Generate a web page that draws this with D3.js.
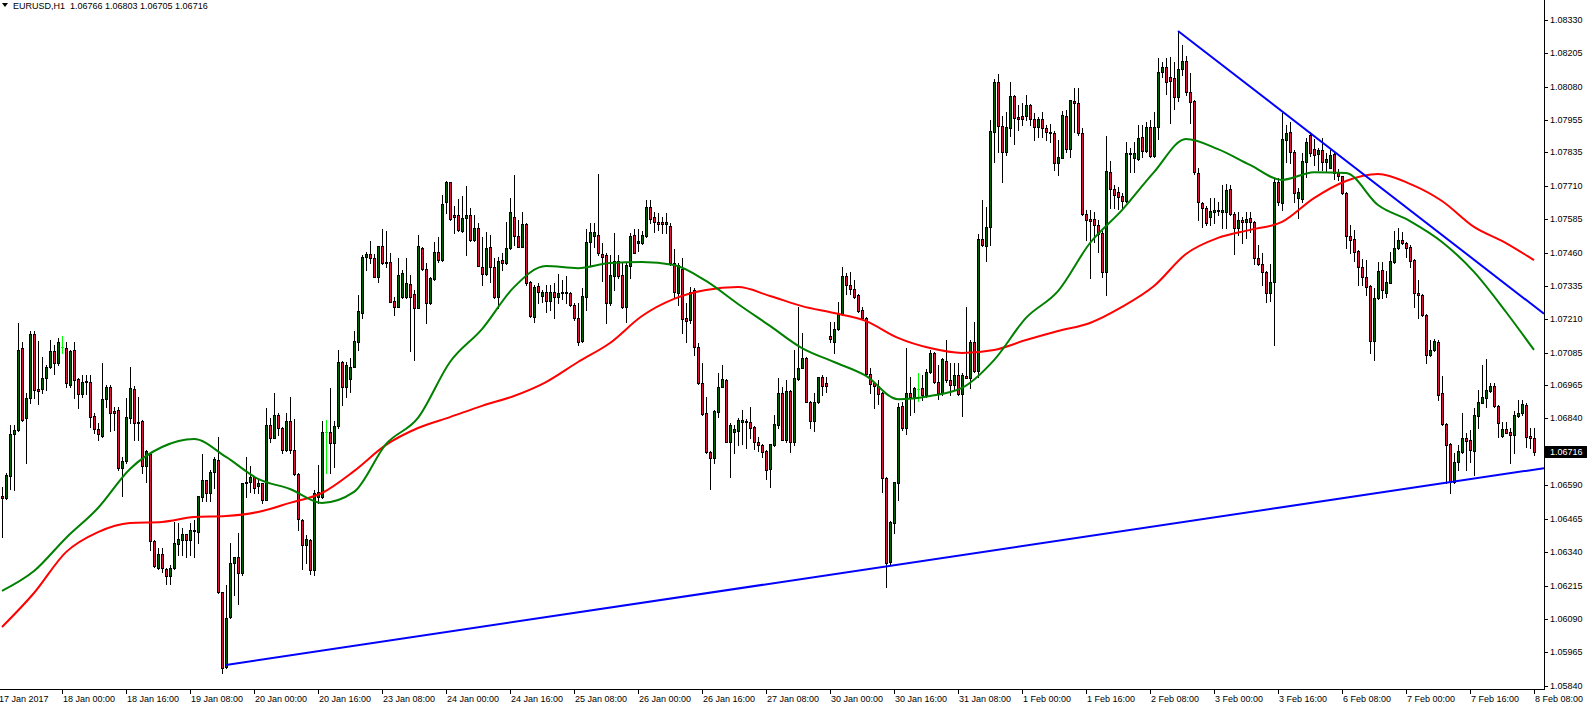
<!DOCTYPE html>
<html><head><meta charset="utf-8">
<script src="https://cdn.jsdelivr.net/npm/d3@7"></script>
<style>html,body{margin:0;padding:0;background:#fff;overflow:hidden}</style>
</head><body><svg id="c" width="1588" height="708"></svg>
<script>
const symbolName = "EURUSD,H1";
const opens=[
1.06550,1.06542,1.06625,1.06782,1.06797,1.07103,1.06842,1.06916,1.07156,1.06950,1.06950,1.06991,1.07032,1.07092,1.07047,1.07107,
1.07103,1.06965,1.07096,1.06987,1.06931,1.06980,1.06976,1.06849,1.06800,1.06774,1.06912,1.06957,1.06868,1.06871,1.06654,1.06681,
1.06842,1.06950,1.06827,1.06830,1.06662,1.06707,1.06382,1.06281,1.06333,1.06277,1.06251,1.06281,1.06370,1.06385,1.06408,1.06385,
1.06423,1.06415,1.06546,1.06610,1.06561,1.06640,1.06684,1.06191,1.05910,1.06097,1.06299,1.06322,1.06262,1.06602,1.06602,1.06621,
1.06587,1.06598,1.06535,1.06815,1.06767,1.06853,1.06804,1.06722,1.06830,1.06722,1.06632,1.06460,1.06367,1.06385,1.06273,1.06546,
1.06546,1.06789,1.06789,1.06748,1.06812,1.07051,1.06957,1.06987,1.07032,1.07126,1.07234,1.07444,1.07455,1.07440,1.07369,1.07485,
1.07425,1.07425,1.07279,1.07257,1.07294,1.07294,1.07343,1.07305,1.07253,1.07477,1.07399,1.07272,1.07361,1.07462,1.07432,1.07649,
1.07724,1.07601,1.07601,1.07541,1.07589,1.07601,1.07507,1.07552,1.07406,1.07380,1.07481,1.07406,1.07294,1.07432,1.07421,1.07477,
1.07593,1.07522,1.07481,1.07567,1.07350,1.07219,1.07335,1.07298,1.07313,1.07279,1.07313,1.07294,1.07313,1.07309,1.07309,1.07264,
1.07216,1.07130,1.07294,1.07500,1.07522,1.07526,1.07455,1.07451,1.07272,1.07373,1.07429,1.07376,1.07257,1.07410,1.07526,1.07496,
1.07496,1.07522,1.07631,1.07593,1.07575,1.07575,1.07567,1.07560,1.07421,1.07309,1.07399,1.07216,1.07208,1.07320,1.07107,1.06972,
1.06860,1.06714,1.06692,1.06864,1.06957,1.06984,1.06752,1.06789,1.06793,1.06827,1.06830,1.06827,1.06808,1.06752,1.06741,1.06718,
1.06651,1.06741,1.06815,1.06935,1.06759,1.06943,1.06752,1.06987,1.07029,1.07066,1.06901,1.06830,1.06901,1.06995,1.06972,1.07148,
1.07126,1.07174,1.07230,1.07373,1.07339,1.07324,1.07302,1.07245,1.07216,1.07006,1.06972,1.06961,1.06935,1.06617,1.06303,1.06449,
1.06598,1.06887,1.06804,1.06935,1.06920,1.06950,1.06954,1.06928,1.07014,1.07085,1.06976,1.06935,1.07055,1.06984,1.06965,1.07002,
1.06931,1.06999,1.06991,1.07126,1.07017,1.07511,1.07485,1.07556,1.07911,1.08098,1.07934,1.07836,1.07926,1.08045,1.07967,1.07971,
1.07971,1.08012,1.07960,1.07930,1.07960,1.07926,1.07911,1.07907,1.07795,1.07814,1.07971,1.07847,1.08027,1.08019,1.07907,1.07605,
1.07586,1.07586,1.07563,1.07533,1.07388,1.07761,1.07698,1.07687,1.07672,1.07653,1.07833,1.07814,1.07810,1.07893,1.07840,1.07930,
1.07821,1.07930,1.08135,1.08154,1.08117,1.08113,1.08042,1.08147,1.08177,1.08061,1.08027,1.07758,1.07646,1.07627,1.07593,1.07612,
1.07620,1.07612,1.07612,1.07698,1.07605,1.07552,1.07582,1.07575,1.07589,1.07575,1.07440,1.07417,1.07388,1.07309,1.07350,1.07724,
1.07646,1.07881,1.07911,1.07836,1.07664,1.07661,1.07799,1.07900,1.07847,1.07829,1.07844,1.07799,1.07776,1.07829,1.07758,1.07746,
1.07683,1.07522,1.07511,1.07466,1.07406,1.07369,1.07335,1.07130,1.07290,1.07395,1.07309,1.07346,1.07425,1.07477,1.07507,1.07496,
1.07481,1.07432,1.07309,1.07302,1.07227,1.07077,1.07096,1.07126,1.06935,1.06819,1.06744,1.06602,1.06677,1.06714,1.06767,1.06759,
1.06718,1.06849,1.06898,1.06916,1.06943,1.06961,1.06887,1.06774,1.06800,1.06789,1.06778,1.06849,1.06860,1.06890,1.06774,1.06766];
const highs=[
1.06583,1.06636,1.06815,1.06815,1.07197,1.07126,1.06935,1.07167,1.07167,1.07130,1.07070,1.07040,1.07133,1.07115,1.07141,1.07148,
1.07126,1.07096,1.07126,1.06991,1.07002,1.07002,1.07002,1.06860,1.06823,1.07047,1.06965,1.06965,1.06883,1.06883,1.06696,1.06916,
1.07032,1.06961,1.06920,1.06834,1.06722,1.06711,1.06385,1.06355,1.06355,1.06281,1.06292,1.06453,1.06449,1.06430,1.06408,1.06449,
1.06460,1.06550,1.06707,1.06610,1.06647,1.06696,1.06770,1.06191,1.06217,1.06374,1.06322,1.06411,1.06598,1.06696,1.06662,1.06625,
1.06617,1.06598,1.06879,1.06842,1.06935,1.06860,1.06808,1.06860,1.06920,1.06838,1.06636,1.06464,1.06404,1.06389,1.06572,1.06666,
1.06830,1.06834,1.06954,1.06830,1.07096,1.07055,1.07051,1.07066,1.07167,1.07302,1.07451,1.07462,1.07504,1.07455,1.07485,1.07548,
1.07541,1.07459,1.07294,1.07440,1.07395,1.07440,1.07376,1.07320,1.07526,1.07481,1.07421,1.07369,1.07500,1.07518,1.07676,1.07728,
1.07724,1.07634,1.07661,1.07672,1.07709,1.07627,1.07601,1.07571,1.07518,1.07537,1.07526,1.07440,1.07444,1.07459,1.07575,1.07664,
1.07750,1.07582,1.07612,1.07571,1.07354,1.07339,1.07346,1.07320,1.07339,1.07339,1.07346,1.07380,1.07358,1.07373,1.07313,1.07272,
1.07272,1.07328,1.07548,1.07571,1.07571,1.07754,1.07496,1.07459,1.07451,1.07533,1.07451,1.07425,1.07421,1.07533,1.07548,1.07548,
1.07541,1.07657,1.07657,1.07612,1.07608,1.07593,1.07608,1.07571,1.07474,1.07421,1.07440,1.07272,1.07331,1.07328,1.07122,1.07047,
1.06920,1.06718,1.06871,1.07010,1.07040,1.06987,1.06823,1.06815,1.06842,1.06871,1.06838,1.06883,1.06812,1.06770,1.06744,1.06722,
1.06744,1.06853,1.06991,1.06957,1.06984,1.06946,1.07096,1.07257,1.07159,1.07070,1.06905,1.06935,1.06995,1.07002,1.06995,1.07201,
1.07201,1.07275,1.07406,1.07384,1.07388,1.07358,1.07305,1.07257,1.07219,1.07029,1.06976,1.06984,1.06939,1.06621,1.06456,1.06602,
1.06898,1.06901,1.07103,1.06995,1.06957,1.07010,1.07002,1.07025,1.07096,1.07088,1.07040,1.07066,1.07133,1.07047,1.07047,1.07047,
1.07010,1.07257,1.07133,1.07201,1.07530,1.07657,1.07631,1.07956,1.08109,1.08128,1.07971,1.07986,1.08098,1.08049,1.08012,1.08019,
1.08049,1.08016,1.07982,1.07967,1.07986,1.07938,1.07941,1.07915,1.07881,1.07990,1.07993,1.08031,1.08075,1.08075,1.07926,1.07619,
1.07619,1.07612,1.07582,1.07541,1.07896,1.07803,1.07713,1.07706,1.07683,1.07874,1.07851,1.07874,1.07938,1.07938,1.07949,1.07956,
1.07986,1.08188,1.08173,1.08188,1.08192,1.08173,1.08285,1.08237,1.08195,1.08132,1.08031,1.07777,1.07649,1.07634,1.07664,1.07664,
1.07649,1.07713,1.07717,1.07713,1.07612,1.07612,1.07593,1.07612,1.07612,1.07578,1.07489,1.07459,1.07391,1.07417,1.07736,1.07739,
1.07982,1.07938,1.07949,1.07844,1.07702,1.07833,1.07889,1.07911,1.07885,1.07851,1.07889,1.07833,1.07844,1.07836,1.07773,1.07746,
1.07687,1.07563,1.07545,1.07470,1.07436,1.07432,1.07339,1.07328,1.07425,1.07425,1.07391,1.07462,1.07541,1.07552,1.07537,1.07500,
1.07489,1.07436,1.07358,1.07305,1.07230,1.07133,1.07137,1.07133,1.06999,1.06823,1.06748,1.06711,1.06741,1.06860,1.06785,1.06797,
1.06879,1.06946,1.07040,1.07062,1.06972,1.06972,1.06890,1.06827,1.06827,1.06804,1.06868,1.06909,1.06909,1.06898,1.06804,1.06803];
const lows=[
1.06396,1.06539,1.06576,1.06572,1.06793,1.06830,1.06673,1.06898,1.06916,1.06894,1.06935,1.06946,1.07029,1.07006,1.07040,1.07085,
1.06957,1.06957,1.06916,1.06879,1.06920,1.06931,1.06808,1.06785,1.06759,1.06770,1.06883,1.06793,1.06797,1.06647,1.06550,1.06673,
1.06823,1.06759,1.06759,1.06636,1.06602,1.06348,1.06284,1.06277,1.06266,1.06221,1.06221,1.06277,1.06329,1.06329,1.06322,1.06329,
1.06322,1.06374,1.06531,1.06531,1.06531,1.06580,1.06187,1.05888,1.05907,1.06094,1.06180,1.06146,1.06254,1.06546,1.06565,1.06561,
1.06561,1.06524,1.06535,1.06752,1.06767,1.06778,1.06711,1.06718,1.06711,1.06628,1.06423,1.06277,1.06299,1.06258,1.06254,1.06524,
1.06542,1.06636,1.06636,1.06658,1.06804,1.06890,1.06920,1.06939,1.07032,1.07096,1.07216,1.07395,1.07421,1.07369,1.07350,1.07417,
1.07406,1.07275,1.07227,1.07257,1.07290,1.07290,1.07092,1.07058,1.07253,1.07395,1.07197,1.07268,1.07358,1.07425,1.07429,1.07608,
1.07582,1.07533,1.07541,1.07537,1.07451,1.07504,1.07504,1.07410,1.07339,1.07376,1.07350,1.07290,1.07253,1.07395,1.07417,1.07474,
1.07489,1.07481,1.07481,1.07339,1.07219,1.07201,1.07272,1.07275,1.07238,1.07245,1.07216,1.07272,1.07287,1.07272,1.07260,1.07208,
1.07115,1.07126,1.07245,1.07414,1.07481,1.07451,1.07354,1.07197,1.07264,1.07320,1.07365,1.07253,1.07201,1.07365,1.07459,1.07466,
1.07492,1.07519,1.07571,1.07537,1.07545,1.07533,1.07533,1.07414,1.07294,1.07264,1.07159,1.07126,1.07197,1.07077,1.06969,1.06853,
1.06711,1.06576,1.06673,1.06845,1.06957,1.06752,1.06621,1.06711,1.06741,1.06744,1.06729,1.06767,1.06726,1.06718,1.06696,1.06614,
1.06584,1.06737,1.06804,1.06759,1.06752,1.06714,1.06741,1.06984,1.07029,1.06901,1.06804,1.06793,1.06898,1.06928,1.06939,1.07126,
1.07085,1.07171,1.07227,1.07305,1.07305,1.07290,1.07238,1.07212,1.07002,1.06935,1.06879,1.06894,1.06565,1.06209,1.06292,1.06411,
1.06535,1.06797,1.06782,1.06853,1.06864,1.06905,1.06909,1.06920,1.07010,1.06972,1.06912,1.06928,1.06976,1.06928,1.06946,1.06928,
1.06849,1.06991,1.06954,1.07014,1.06995,1.07485,1.07429,1.07489,1.07799,1.07836,1.07724,1.07825,1.07896,1.07866,1.07919,1.07938,
1.07956,1.07938,1.07881,1.07893,1.07893,1.07881,1.07874,1.07769,1.07750,1.07814,1.07836,1.07818,1.07911,1.07900,1.07601,1.07507,
1.07365,1.07500,1.07462,1.07369,1.07302,1.07627,1.07627,1.07623,1.07623,1.07649,1.07761,1.07761,1.07806,1.07818,1.07836,1.07818,
1.07818,1.07885,1.08117,1.08053,1.07945,1.07997,1.08027,1.08124,1.08049,1.07945,1.07754,1.07582,1.07556,1.07563,1.07563,1.07571,
1.07601,1.07552,1.07552,1.07601,1.07455,1.07526,1.07496,1.07515,1.07537,1.07417,1.07414,1.07339,1.07275,1.07279,1.07115,1.07638,
1.07619,1.07799,1.07795,1.07649,1.07589,1.07649,1.07743,1.07821,1.07788,1.07769,1.07769,1.07761,1.07776,1.07735,1.07732,1.07679,
1.07478,1.07459,1.07429,1.07339,1.07339,1.07302,1.07085,1.07058,1.07287,1.07290,1.07294,1.07346,1.07421,1.07474,1.07492,1.07444,
1.07406,1.07257,1.07216,1.07223,1.07047,1.07074,1.07092,1.06909,1.06815,1.06598,1.06561,1.06598,1.06647,1.06711,1.06647,1.06677,
1.06628,1.06804,1.06898,1.06883,1.06939,1.06883,1.06770,1.06770,1.06785,1.06673,1.06711,1.06845,1.06853,1.06733,1.06729,1.06705];
const closes=[
1.06542,1.06628,1.06782,1.06797,1.07096,1.06834,1.06916,1.07156,1.06946,1.06943,1.06991,1.07032,1.07092,1.07047,1.07126,1.07107,
1.06972,1.07092,1.06984,1.06931,1.06976,1.06976,1.06845,1.06800,1.06782,1.06912,1.06957,1.06860,1.06860,1.06654,1.06681,1.06845,
1.06954,1.06823,1.06823,1.06662,1.06718,1.06382,1.06288,1.06333,1.06281,1.06251,1.06281,1.06374,1.06389,1.06408,1.06385,1.06423,
1.06419,1.06550,1.06610,1.06561,1.06640,1.06688,1.06191,1.05907,1.06094,1.06299,1.06322,1.06262,1.06598,1.06598,1.06621,1.06580,
1.06598,1.06535,1.06815,1.06767,1.06853,1.06804,1.06722,1.06830,1.06722,1.06632,1.06464,1.06367,1.06389,1.06273,1.06561,1.06565,
1.06789,1.06789,1.06748,1.06812,1.07051,1.06957,1.07040,1.07032,1.07130,1.07242,1.07444,1.07455,1.07440,1.07369,1.07485,1.07421,
1.07421,1.07275,1.07257,1.07376,1.07384,1.07346,1.07294,1.07253,1.07485,1.07399,1.07272,1.07365,1.07462,1.07432,1.07642,1.07724,
1.07586,1.07593,1.07545,1.07589,1.07601,1.07507,1.07552,1.07410,1.07380,1.07477,1.07406,1.07294,1.07429,1.07421,1.07477,1.07612,
1.07522,1.07481,1.07567,1.07346,1.07223,1.07331,1.07313,1.07313,1.07279,1.07313,1.07294,1.07309,1.07309,1.07313,1.07264,1.07216,
1.07126,1.07298,1.07500,1.07537,1.07537,1.07459,1.07444,1.07272,1.07376,1.07429,1.07373,1.07257,1.07414,1.07522,1.07459,1.07504,
1.07526,1.07631,1.07586,1.07575,1.07567,1.07567,1.07575,1.07421,1.07313,1.07414,1.07212,1.07204,1.07313,1.07107,1.06972,1.06856,
1.06714,1.06692,1.06868,1.06957,1.06987,1.06752,1.06815,1.06800,1.06834,1.06834,1.06827,1.06804,1.06752,1.06741,1.06714,1.06647,
1.06744,1.06819,1.06935,1.06759,1.06943,1.06752,1.06991,1.07029,1.07066,1.06901,1.06830,1.06901,1.06995,1.06961,1.06961,1.07137,
1.07174,1.07230,1.07373,1.07339,1.07324,1.07294,1.07242,1.07216,1.07006,1.06969,1.06961,1.06931,1.06617,1.06299,1.06453,1.06602,
1.06883,1.06804,1.06935,1.06920,1.06954,1.06950,1.06928,1.07014,1.07085,1.06976,1.06935,1.07062,1.06984,1.06965,1.07002,1.06931,
1.07002,1.06991,1.07126,1.07017,1.07511,1.07489,1.07556,1.07915,1.08098,1.07934,1.07836,1.07930,1.08045,1.07963,1.07960,1.07960,
1.08012,1.07960,1.07930,1.07960,1.07926,1.07911,1.07907,1.07795,1.07817,1.07975,1.07847,1.08031,1.08019,1.07907,1.07605,1.07582,
1.07578,1.07563,1.07530,1.07388,1.07765,1.07698,1.07676,1.07668,1.07653,1.07833,1.07829,1.07833,1.07889,1.07840,1.07930,1.07821,
1.07930,1.08135,1.08154,1.08098,1.08102,1.08042,1.08147,1.08177,1.08061,1.08023,1.07761,1.07649,1.07627,1.07571,1.07616,1.07620,
1.07616,1.07620,1.07694,1.07605,1.07552,1.07582,1.07575,1.07586,1.07575,1.07440,1.07417,1.07388,1.07309,1.07350,1.07724,1.07649,
1.07885,1.07907,1.07836,1.07683,1.07687,1.07803,1.07874,1.07833,1.07825,1.07844,1.07799,1.07810,1.07825,1.07758,1.07746,1.07683,
1.07522,1.07507,1.07462,1.07406,1.07369,1.07331,1.07130,1.07290,1.07391,1.07320,1.07350,1.07429,1.07477,1.07507,1.07496,1.07477,
1.07429,1.07309,1.07302,1.07227,1.07077,1.07096,1.07130,1.06928,1.06819,1.06741,1.06602,1.06677,1.06718,1.06767,1.06756,1.06722,
1.06853,1.06901,1.06920,1.06946,1.06961,1.06887,1.06823,1.06800,1.06785,1.06778,1.06853,1.06860,1.06894,1.06770,1.06767,1.06716];

const maBars=[0,8,16,24,32,40,48,56,64,72,80,88,96,104,112,120,128,136,144,152,160,168,176,184,192,200,208,216,224,232,240,248,256,264,272,280,288,296,304,312,320,328,336,344,352,360,368,376,383];
const maFast=[1.06195,1.06269,1.06393,1.06505,1.06651,1.06733,1.06763,1.06696,1.06614,1.06576,1.06524,1.06565,1.06744,1.06842,1.07051,1.07174,1.07331,1.07410,1.07402,1.07421,1.07425,1.07414,1.07354,1.07268,1.07186,1.07103,1.07051,1.06999,1.06912,1.06924,1.06954,1.07058,1.07216,1.07316,1.07496,1.07619,1.07761,1.07885,1.07847,1.07788,1.07732,1.07761,1.07758,1.07638,1.07578,1.07500,1.07388,1.07238,1.07096];
const maSlow=[1.06060,1.06187,1.06340,1.06415,1.06449,1.06453,1.06471,1.06475,1.06490,1.06524,1.06561,1.06643,1.06741,1.06804,1.06845,1.06887,1.06924,1.06976,1.07051,1.07122,1.07223,1.07287,1.07320,1.07331,1.07298,1.07260,1.07234,1.07204,1.07141,1.07103,1.07085,1.07096,1.07133,1.07167,1.07197,1.07257,1.07335,1.07455,1.07515,1.07545,1.07575,1.07664,1.07728,1.07754,1.07717,1.07653,1.07556,1.07496,1.07432];

const trendLowerBars=[56,360], trendLowerPrices=[1.05918,1.06597];
const trendUpperBars=[294,360], trendUpperPrices=[1.08289,1.07526];

const priceTicks=[1.08330,1.08205,1.08080,1.07955,1.07835,1.07710,1.07585,1.07460,1.07335,1.07210,1.07085,1.06965,1.06840,1.06590,1.06465,1.06340,1.06215,1.06090,1.05965,1.05840];
const timeLabels=["17 Jan 2017","18 Jan 00:00","18 Jan 16:00","19 Jan 08:00","20 Jan 00:00","20 Jan 16:00","23 Jan 08:00","24 Jan 00:00","24 Jan 16:00","25 Jan 08:00","26 Jan 00:00","26 Jan 16:00","27 Jan 08:00","30 Jan 00:00","30 Jan 16:00","31 Jan 08:00","1 Feb 00:00","1 Feb 16:00","2 Feb 08:00","3 Feb 00:00","3 Feb 16:00","6 Feb 08:00","7 Feb 00:00","7 Feb 16:00","8 Feb 08:00"];
const timeLabelBars=[0,15,31,47,63,79,95,111,127,143,159,175,191,207,223,239,255,271,287,303,319,335,351,367,383];

const W=1588,H=708,plotR=1544,plotB=689;
const FONT="'Liberation Sans', Arial, sans-serif";
const svg=d3.select('#c');
svg.append('rect').attr('width',W).attr('height',H).attr('fill','#fff');
const x=d3.scaleLinear().domain([0,opens.length-1]).range([2,1534]);
const y=d3.scaleLinear().domain([1.05840,1.08330]).range([685.8,20]);

svg.append('defs').append('clipPath').attr('id','clip').append('rect').attr('x',0).attr('y',0).attr('width',plotR).attr('height',plotB);
const plot=svg.append('g').attr('clip-path','url(#clip)');

const candles=opens.map((o,i)=>({i,o,h:highs[i],l:lows[i],c:closes[i]}));
const cg=plot.append('g').attr('shape-rendering','crispEdges');
candles.forEach(d=>{
  const cx=Math.round(x(d.i));
  const yh=Math.round(y(d.h)), yl=Math.round(y(d.l));
  const yo=Math.round(y(d.o)), yc=Math.round(y(d.c));
  if(d.o===d.c){
    cg.append('rect').attr('x',cx).attr('y',yh).attr('width',1).attr('height',Math.max(1,yl-yh+1)).attr('fill','#00ff00');
    cg.append('rect').attr('x',cx-1).attr('y',yo).attr('width',3).attr('height',1).attr('fill','#00ff00');
    return;
  }
  cg.append('rect').attr('x',cx).attr('y',yh).attr('width',1).attr('height',Math.max(1,yl-yh+1)).attr('fill','#000');
  const top=Math.min(yo,yc), bot=Math.max(yo,yc);
  const hgt=bot-top+1;
  cg.append('rect').attr('x',cx-1).attr('y',top).attr('width',3).attr('height',hgt).attr('fill','#000');
  if(hgt>2){
    cg.append('rect').attr('x',cx).attr('y',top+1).attr('width',1).attr('height',hgt-2)
      .attr('fill', d.c>d.o ? '#006400' : '#dc143c');
  }
});

const maLine=d3.line().x((d,k)=>x(maBars[k])).y(d=>y(d)).curve(d3.curveMonotoneX);
plot.append('path').attr('d',maLine(maSlow)).attr('fill','none').attr('stroke','#ff0000').attr('stroke-width',2);
plot.append('path').attr('d',maLine(maFast)).attr('fill','none').attr('stroke','#008000').attr('stroke-width',2);

function ray(bars,prices){
  const x1=x(bars[0]), y1=y(prices[0]), x2=x(bars[1]), y2=y(prices[1]);
  const xe=plotR;
  const ye=y1+(y2-y1)*(xe-x1)/(x2-x1);
  plot.append('line').attr('x1',x1).attr('y1',y1).attr('x2',xe).attr('y2',ye)
    .attr('stroke','#0000ff').attr('stroke-width',2);
}
ray(trendLowerBars,trendLowerPrices);
ray(trendUpperBars,trendUpperPrices);

// axes
const ax=svg.append('g').attr('shape-rendering','crispEdges');
ax.append('rect').attr('x',plotR).attr('y',0).attr('width',1).attr('height',plotB+1).attr('fill','#000');
ax.append('rect').attr('x',0).attr('y',plotB).attr('width',plotR+1).attr('height',1).attr('fill','#000');
priceTicks.forEach(p=>{
  const yy=Math.round(y(p));
  ax.append('rect').attr('x',plotR+1).attr('y',yy).attr('width',3).attr('height',1).attr('fill','#000');
  svg.append('text').attr('x',1550).attr('y',yy+3.3).attr('font-family',FONT).attr('font-size',9).attr('fill','#000').text(p.toFixed(5));
});
timeLabels.forEach((t,k)=>{
  const xx=Math.round(x(timeLabelBars[k]));
  if(k>0) ax.append('rect').attr('x',xx).attr('y',plotB+1).attr('width',1).attr('height',4).attr('fill','#000');
  svg.append('text').attr('x',k===0?-1:xx+1).attr('y',701.5).attr('font-family',FONT).attr('font-size',9).attr('fill','#000').text(t);
});
// current price label
const last=candles[candles.length-1];
const yl=Math.round(y(last.c));
svg.append('rect').attr('x',plotR+1).attr('y',yl-6).attr('width',W-plotR-2).attr('height',12).attr('fill','#000');
svg.append('text').attr('x',1550).attr('y',yl+3.3).attr('font-family',FONT).attr('font-size',9).attr('fill','#fff').text(last.c.toFixed(5));

// header
svg.append('path').attr('d','M2,3 L8,3 L5,7 Z').attr('fill','#000');
svg.append('text').attr('x',13).attr('y',8.5).attr('font-family',FONT).attr('font-size',9).attr('fill','#000')
  .attr('xml:space','preserve')
  .text(symbolName+'  '+[last.o,last.h,last.l,last.c].map(v=>v.toFixed(5)).join(' '));
</script></body></html>
